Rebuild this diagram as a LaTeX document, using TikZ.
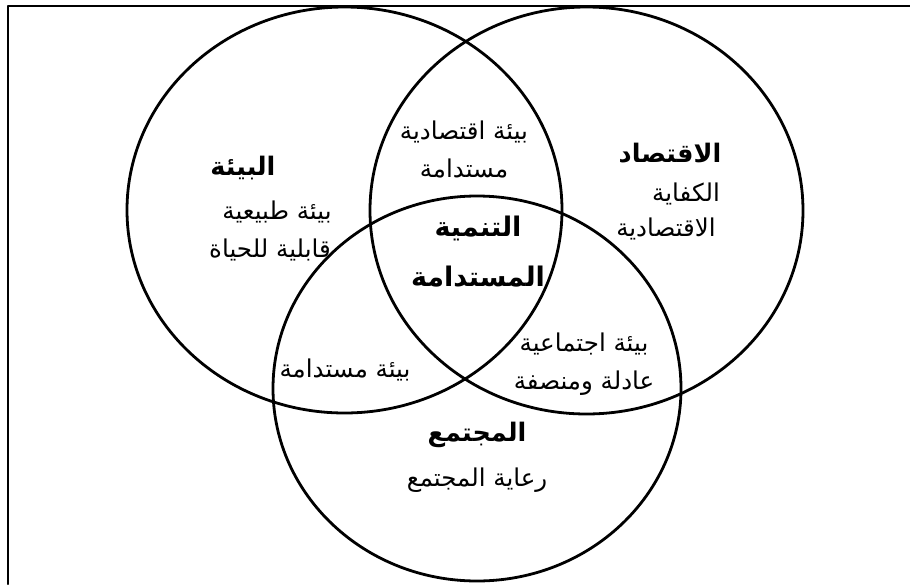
\documentclass[tikz,border=0pt]{standalone}
\usepackage{fontspec}
\newfontfamily\arabicfont[Script=Arabic]{DejaVu Sans}
\TeXXeTstate=1
\begin{document}
\begin{tikzpicture}[x=1pt,y=-1pt,line width=2.8pt,line join=round,line cap=round,
	txt/.style={font=\arabicfont\fontsize{24.5}{38}\selectfont,align=center,inner sep=0},
	hd/.style={txt,font=\arabicfont\bfseries\fontsize{25.5}{50}\selectfont}]
	\useasboundingbox (0,0) rectangle (910,584);
	% frame
	\draw (910,6)--(8,6)--(8,584);
	% the three circles
	\draw (344.5,210) ellipse [x radius=217.5,y radius=203];
	\draw (586.5,210.5) ellipse [x radius=216.5,y radius=203.5];
	\draw (477,388.5) ellipse [x radius=204,y radius=192.5];
	% environment
	\path (243,168)node[hd](bia){\beginR البيئة\endR}
	(277,212)node[txt](bia1){\beginR بيئة طبيعية\endR}
	(270,250)node[txt](bia2){\beginR قابلية للحياة\endR};
	% economy
	\path (670,153)node[hd](iqt){\beginR الاقتصاد\endR}
	(686,194)node[txt](iqt1){\beginR الكفاية\endR}
	(666,229)node[txt](iqt2){\beginR الاقتصادية\endR};
	% society
	\path (477,435)node[hd](muj){\beginR المجتمع\endR}
	(477,480)node[txt](muj1){\beginR رعاية المجتمع\endR};
	% intersections
	\path (464,149)node[txt](bi){\beginR بيئة اقتصادية\endR\\\beginR مستدامة\endR}
	(345,370)node[txt](bm){\beginR بيئة مستدامة\endR}
	(584,364)node[txt](mi){\beginR بيئة اجتماعية\endR\\\beginR عادلة ومنصفة\endR};
	\path (478,252)node[hd,font=\arabicfont\bfseries\fontsize{27}{50}\selectfont](tm){\beginR التنمية\endR\\\beginR المستدامة\endR};
\end{tikzpicture}
\end{document}
